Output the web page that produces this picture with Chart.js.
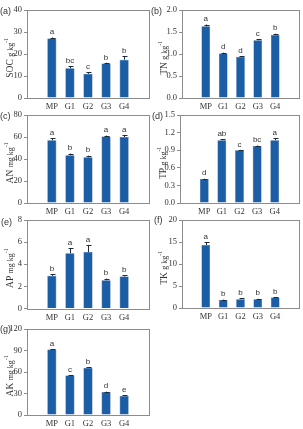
<!DOCTYPE html>
<html>
<head>
<meta charset="utf-8">
<script src="https://cdn.jsdelivr.net/npm/chart.js@4/dist/chart.umd.min.js"></script>
<style>
html, body { margin: 0; padding: 0; background: #fff; }
#wrap { position: relative; width: 303px; height: 429px; overflow: hidden; }
canvas { position: absolute; }
</style>
</head>
<body>
<div id="wrap">
  <canvas id="pa" width="152" height="112" style="left:0;top:0"></canvas>
  <canvas id="pb" width="152" height="112" style="left:151px;top:0"></canvas>
  <canvas id="pc" width="152" height="112" style="left:0;top:105px"></canvas>
  <canvas id="pd" width="152" height="112" style="left:151px;top:105px"></canvas>
  <canvas id="pe" width="152" height="112" style="left:0;top:210px"></canvas>
  <canvas id="pf" width="152" height="112" style="left:151px;top:210px"></canvas>
  <canvas id="pg" width="152" height="114" style="left:0;top:315px"></canvas>
</div>
<script>
// kategooriad
const categories = ['MP', 'G1', 'G2', 'G3', 'G4'];

// (a) SOC
const socValues = [27.0, 13.5, 11.0, 15.7, 17.4];
const socErrors = [0.5, 1.0, 0.8, 0.3, 1.6];
const socLetters = ['a', 'bc', 'c', 'b', 'b'];
const socTicks = [0, 10, 20, 30, 40];

// (b) TN
const tnValues = [1.63, 1.01, 0.94, 1.31, 1.43];
const tnErrors = [0.04, 0.02, 0.01, 0.02, 0.03];
const tnLetters = ['a', 'd', 'd', 'c', 'b'];
const tnTicks = [0, 0.5, 1.0, 1.5, 2.0];

// (c) AN
const anValues = [57.0, 43.5, 41.5, 60.5, 60.0];
const anErrors = [2.0, 1.5, 1.5, 0.8, 1.5];
const anLetters = ['a', 'b', 'b', 'a', 'a'];
const anTicks = [0, 20, 40, 60, 80];

// (d) TP
const tpValues = [0.41, 1.07, 0.90, 0.97, 1.07];
const tpErrors = [0.005, 0.02, 0.005, 0.01, 0.04];
const tpLetters = ['d', 'ab', 'c', 'bc', 'a'];
const tpTicks = [0, 0.3, 0.6, 0.9, 1.2, 1.5];

// (e) AP
const apValues = [2.95, 5.0, 5.1, 2.55, 2.9];
const apErrors = [0.15, 0.45, 0.65, 0.15, 0.1];
const apLetters = ['b', 'a', 'a', 'b', 'b'];
const apTicks = [0, 2, 4, 6, 8];

// (f) TK
const tkValues = [14.3, 1.8, 2.0, 2.0, 2.4];
const tkErrors = [0.6, 0.1, 0.2, 0.1, 0.1];
const tkLetters = ['a', 'b', 'b', 'b', 'b'];
const tkTicks = [0, 5, 10, 15, 20];

// (g) AK
const akValues = [91.5, 55.0, 66.0, 32.0, 26.5];
const akErrors = [0.6, 0.6, 0.6, 0.6, 1.0];
const akLetters = ['a', 'c', 'b', 'd', 'e'];
const akTicks = [0, 30, 60, 90, 120];

const barColor = '#1b5ea6';
const textColor = '#333';
const frameColor = '#8c8c8c';
const serif = '"Liberation Serif", "DejaVu Serif", serif';
const sans = '"Liberation Sans", Arial, sans-serif';

// paneelide seaded
const panels = [
    { id: 'pa', tag: '(a)', name: 'SOC', unit: 'g kg', values: socValues, errors: socErrors, letters: socLetters, ticks: socTicks, dec: 0, axisX: 27, right: 149, top: 10, bottom: 98, tagX: 0, tagY: 12, titleX: 10 },
    { id: 'pb', tag: '(b)', name: 'TN', unit: 'g kg', values: tnValues, errors: tnErrors, letters: tnLetters, ticks: tnTicks, dec: 1, axisX: 31, right: 148, top: 10, bottom: 98, tagX: 0, tagY: 12, titleX: 13 },
    { id: 'pc', tag: '(c)', name: 'AN', unit: 'mg kg', values: anValues, errors: anErrors, letters: anLetters, ticks: anTicks, dec: 0, axisX: 27, right: 149, top: 10, bottom: 98, tagX: 0, tagY: 12, titleX: 10 },
    { id: 'pd', tag: '(d)', name: 'TP', unit: 'g kg', values: tpValues, errors: tpErrors, letters: tpLetters, ticks: tpTicks, dec: 1, axisX: 29, right: 148, top: 10, bottom: 98, tagX: 1, tagY: 12, titleX: 12 },
    { id: 'pe', tag: '(e)', name: 'AP', unit: 'mg kg', values: apValues, errors: apErrors, letters: apLetters, ticks: apTicks, dec: 0, axisX: 27, right: 149, top: 10, bottom: 98.5, tagX: 1, tagY: 13, titleX: 10 },
    { id: 'pf', tag: '(f)', name: 'TK', unit: 'g kg', values: tkValues, errors: tkErrors, letters: tkLetters, ticks: tkTicks, dec: 0, axisX: 31, right: 148, top: 10, bottom: 98, tagX: 3, tagY: 11, titleX: 13 },
    { id: 'pg', tag: '(g)', name: 'AK', unit: 'mg kg', values: akValues, errors: akErrors, letters: akLetters, ticks: akTicks, dec: 0, axisX: 27, right: 149, top: 14, bottom: 100, tagX: 0, tagY: 15, titleX: 10 }
];

// Plugin: raam, veapiirid, tähed, paneeli silt ja y-telje pealkiri
const decorPlugin = {
    id: 'decor',
    afterDatasetsDraw(chart) {
        const p = chart.options.plugins.decor;
        const ctx = chart.ctx;
        const area = chart.chartArea;
        const yScale = chart.scales.y;
        ctx.save();
        // raam
        ctx.strokeStyle = frameColor;
        ctx.lineWidth = 1;
        ctx.strokeRect(Math.round(area.left) + 0.5, Math.round(area.top) + 0.5,
            Math.round(area.right - area.left), Math.round(area.bottom - area.top));
        // veapiirid ja tähed
        const meta = chart.getDatasetMeta(0);
        meta.data.forEach((bar, i) => {
            const yTop = yScale.getPixelForValue(p.values[i] + p.errors[i]);
            const x = Math.round(bar.x) + 0.5;
            ctx.strokeStyle = '#1d2a3a';
            ctx.lineWidth = 1;
            ctx.beginPath();
            ctx.moveTo(x, bar.y);
            ctx.lineTo(x, yTop);
            ctx.moveTo(x - 2, Math.round(yTop) + 0.5);
            ctx.lineTo(x + 3, Math.round(yTop) + 0.5);
            ctx.stroke();
            ctx.fillStyle = textColor;
            ctx.font = '8px ' + sans;
            ctx.textAlign = 'center';
            ctx.textBaseline = 'bottom';
            ctx.fillText(p.letters[i], bar.x, yTop - 1.5);
        });
        // paneeli silt
        ctx.fillStyle = textColor;
        ctx.font = '9px ' + sans;
        ctx.textAlign = 'left';
        ctx.textBaseline = 'middle';
        ctx.fillText(p.tag, p.tagX, p.tagY);
        // y-telje pealkiri
        ctx.translate(p.titleX, (area.top + area.bottom) / 2 + 4);
        ctx.rotate(-Math.PI / 2);
        ctx.textBaseline = 'middle';
        ctx.font = '9.5px ' + serif;
        const w1 = ctx.measureText(p.name + ' ').width;
        ctx.font = '8px ' + serif;
        const w2 = ctx.measureText(p.unit).width;
        ctx.font = '5.5px ' + serif;
        const w3 = ctx.measureText('-1').width;
        let xx = -(w1 + w2 + w3) / 2;
        ctx.textAlign = 'left';
        ctx.font = '9.5px ' + serif;
        ctx.fillText(p.name + ' ', xx, 0);
        xx += w1;
        ctx.font = '8px ' + serif;
        ctx.fillText(p.unit, xx, 0.5);
        xx += w2;
        ctx.font = '5.5px ' + serif;
        ctx.fillText('-1', xx, -3);
        ctx.restore();
    }
};

function joonistaPaneel(p) {
    const canvas = document.getElementById(p.id);
    const ctx = canvas.getContext('2d');
    const xAxisHeight = 14;
    new Chart(ctx, {
        type: 'bar',
        data: {
            datasets: [{
                data: p.values.map((v, i) => ({ x: i, y: v })),
                backgroundColor: barColor,
                borderColor: '#17508e',
                borderWidth: 0.5,
                barPercentage: 0.5,
                categoryPercentage: 1
            }]
        },
        options: {
            responsive: false,
            animation: false,
            devicePixelRatio: 1,
            layout: {
                padding: {
                    left: 0,
                    top: p.top,
                    right: canvas.width - p.right,
                    bottom: canvas.height - p.bottom - xAxisHeight
                }
            },
            plugins: {
                legend: { display: false },
                tooltip: { enabled: false },
                decor: p
            },
            scales: {
                x: {
                    type: 'linear',
                    min: -0.7,
                    max: 4.7,
                    grid: { display: false, drawTicks: false },
                    border: { display: false },
                    afterBuildTicks: (scale) => {
                        scale.ticks = categories.map((c, i) => ({ value: i }));
                    },
                    afterFit: (scale) => { scale.height = xAxisHeight; },
                    ticks: {
                        autoSkip: false,
                        maxRotation: 0,
                        padding: 4,
                        color: textColor,
                        font: { family: serif, size: 8.5 },
                        callback: (value) => categories[value]
                    }
                },
                y: {
                    min: p.ticks[0],
                    max: p.ticks[p.ticks.length - 1],
                    afterBuildTicks: (scale) => {
                        scale.ticks = p.ticks.map((v) => ({ value: v }));
                    },
                    afterFit: (scale) => { scale.width = p.axisX; },
                    grid: { drawOnChartArea: false, drawTicks: true, tickLength: 3, color: frameColor },
                    border: { display: false },
                    ticks: {
                        padding: 2,
                        color: textColor,
                        font: { family: serif, size: 8.5 },
                        callback: (value) => Number(value).toFixed(p.dec)
                    }
                }
            }
        },
        plugins: [decorPlugin]
    });
}

panels.forEach(joonistaPaneel);
</script>
</body>
</html>
